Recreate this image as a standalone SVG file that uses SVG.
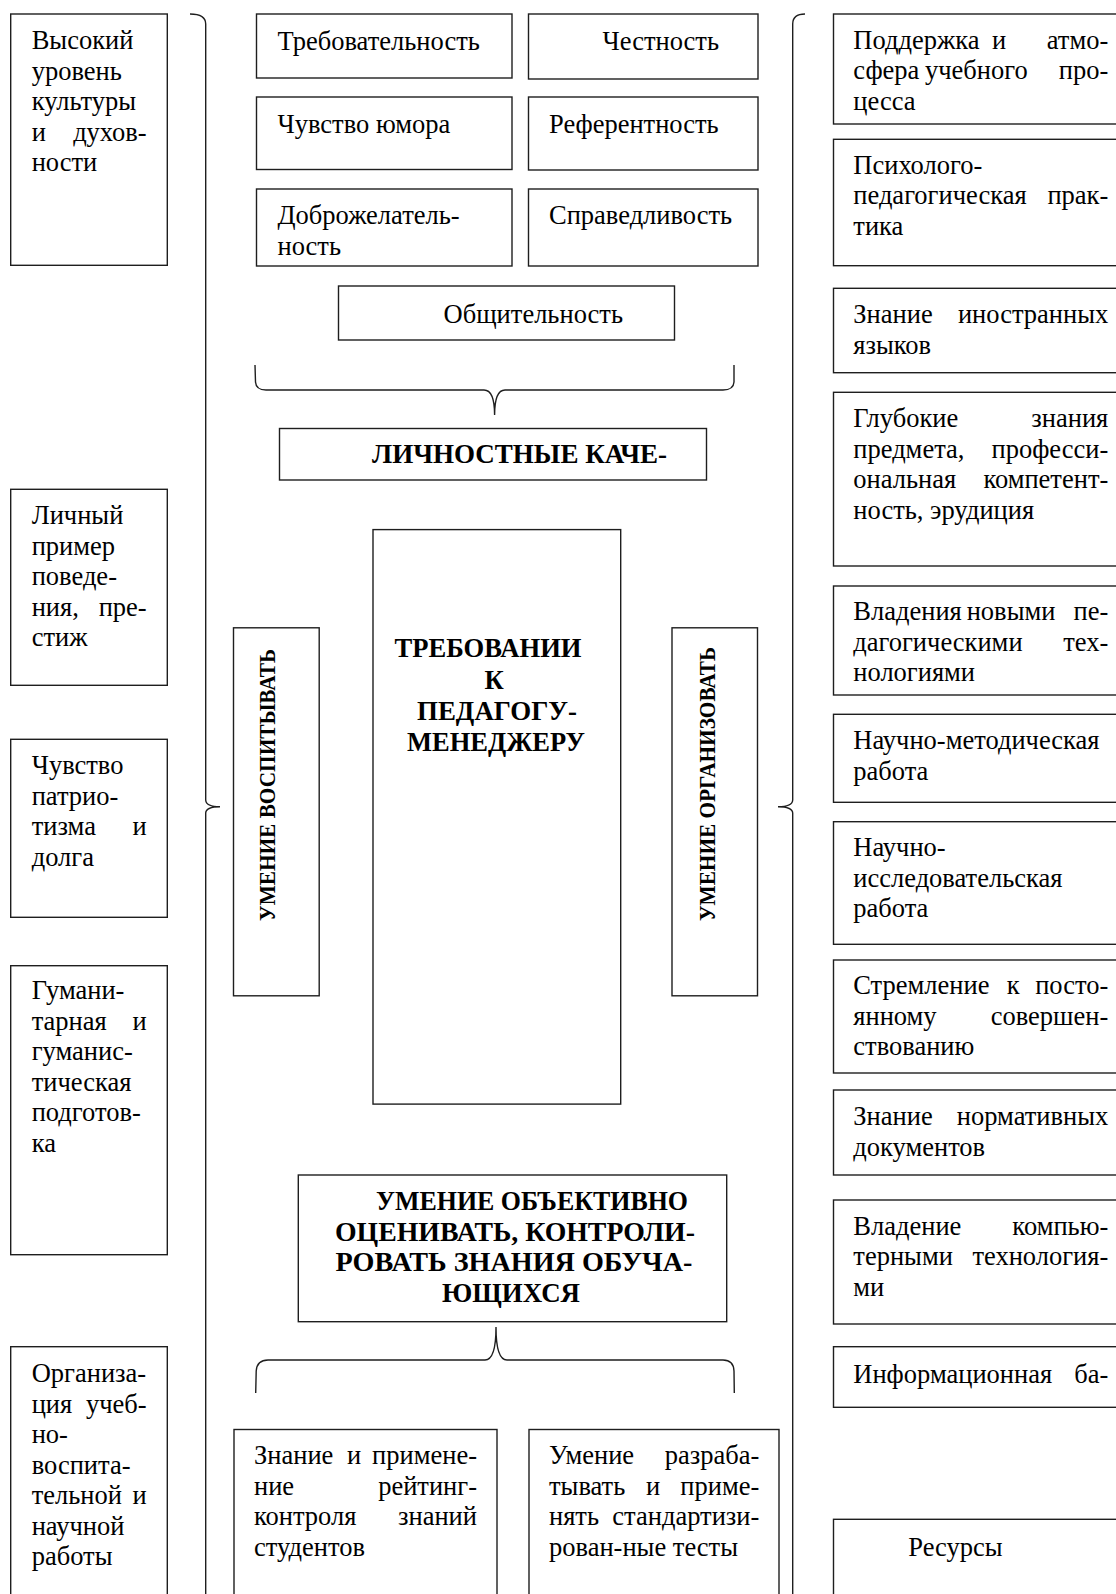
<svg xmlns="http://www.w3.org/2000/svg" width="1116" height="1594" viewBox="0 0 1116 1594">
<style>
.box{fill:#fff;stroke:#1e1e1e;stroke-width:1.4}
.t{font-family:"Liberation Serif","Times New Roman",serif;font-size:26.5px;fill:#000}
.b{font-weight:bold}
.e{text-anchor:end}
.m{text-anchor:middle}
.br{fill:none;stroke:#1e1e1e;stroke-width:1.4}
</style>
<rect width="1116" height="1594" fill="#fff"/>
<g id="connectors">
<path class="br" d="M190 14 Q205.7 14 205.7 24 L205.7 800 Q206 806.7 220 806.7 Q206 806.7 205.7 813 L205.7 1600"/>
<path class="br" d="M805 14 Q792.7 14 792.7 24 L792.7 800 Q792.4 806.7 778 806.7 Q792.4 806.7 792.7 813 L792.7 1600"/>
<path class="br" d="M255 365 L255.5 382 Q256 390 266 390 L484 390 Q494.6 390 494.6 415 Q494.6 390 505 390 L723 390 Q733.5 390 734 382 L734 365"/>
<path class="br" d="M255.7 1393 L256.2 1371 Q257 1360 268 1360 L485 1360 Q496 1360 496 1327 Q496 1360 507 1360 L723 1360 Q733.5 1360 734 1371 L734.3 1393"/>
</g>
<g id="left-a"><rect class="box" x="10.7" y="14" width="156.6" height="251.3"/>
<text class="t" x="31.7" y="49">Высокий</text><text class="t" x="31.7" y="79.5">уровень</text><text class="t" x="31.7" y="110">культуры</text><text class="t" x="31.7" y="140.5">и</text><text class="t e" x="146.7" y="140.5">духов-</text><text class="t" x="31.7" y="171">ности</text></g>
<g id="left-b"><rect class="box" x="10.7" y="489.3" width="156.6" height="196"/>
<text class="t" x="31.7" y="524">Личный</text><text class="t" x="31.7" y="554.5">пример</text><text class="t" x="31.7" y="585">поведе-</text><text class="t" x="31.7" y="615.5">ния,</text><text class="t e" x="146.7" y="615.5">пре-</text><text class="t" x="31.7" y="646">стиж</text></g>
<g id="left-c"><rect class="box" x="10.7" y="739.3" width="156.6" height="178"/>
<text class="t" x="31.7" y="774">Чувство</text><text class="t" x="31.7" y="804.5">патрио-</text><text class="t" x="31.7" y="835">тизма</text><text class="t e" x="146.7" y="835">и</text><text class="t" x="31.7" y="865.5">долга</text></g>
<g id="left-d"><rect class="box" x="10.7" y="965.7" width="156.6" height="289"/>
<text class="t" x="31.7" y="999">Гумани-</text><text class="t" x="31.7" y="1029.5">тарная</text><text class="t e" x="146.7" y="1029.5">и</text><text class="t" x="31.7" y="1060">гуманис-</text><text class="t" x="31.7" y="1090.5">тическая</text><text class="t" x="31.7" y="1121">подготов-</text><text class="t" x="31.7" y="1151.5">ка</text></g>
<g id="left-e"><rect class="box" x="10.7" y="1346.7" width="156.6" height="260"/>
<text class="t" x="31.7" y="1382">Организа-</text><text class="t" x="31.7" y="1412.5">ция</text><text class="t e" x="146.7" y="1412.5">учеб-</text><text class="t" x="31.7" y="1443">но-</text><text class="t" x="31.7" y="1473.5">воспита-</text><text class="t" x="31.7" y="1504">тельной</text><text class="t e" x="146.7" y="1504">и</text><text class="t" x="31.7" y="1534.5">научной</text><text class="t" x="31.7" y="1565">работы</text></g>
<g id="q-trebovatelnost"><rect class="box" x="256.5" y="14" width="255.5" height="64"/><text class="t" x="277.5" y="50">Требовательность</text></g>
<g id="q-chestnost"><rect class="box" x="528.5" y="14" width="229.5" height="65"/><text class="t" x="602.5" y="50">Честность</text></g>
<g id="q-humor"><rect class="box" x="256.5" y="97" width="255.5" height="72.5"/><text class="t" x="277.5" y="132.5">Чувство юмора</text></g>
<g id="q-referent"><rect class="box" x="528.5" y="97" width="229.5" height="73"/><text class="t" x="549" y="132.5">Референтность</text></g>
<g id="q-dobro"><rect class="box" x="256.5" y="189" width="255.5" height="77"/><text class="t" x="277.5" y="224">Доброжелатель-</text><text class="t" x="277.5" y="254.5">ность</text></g>
<g id="q-sprav"><rect class="box" x="528.5" y="189" width="229.5" height="77"/><text class="t" x="549" y="224">Справедливость</text></g>
<g id="q-obsch"><rect class="box" x="338.5" y="286" width="336" height="54"/><text class="t" x="443.6" y="322.5">Общительность</text></g>
<g id="lichnostnye"><rect class="box" x="279.5" y="428.5" width="427" height="51.5"/><text class="t b" x="372" y="463" textLength="295" lengthAdjust="spacingAndGlyphs">ЛИЧНОСТНЫЕ КАЧЕ-</text></g>
<g id="center"><rect class="box" x="373" y="529.6" width="247.7" height="574.5"/>
<text class="t b m" x="488" y="657" textLength="187" lengthAdjust="spacingAndGlyphs">ТРЕБОВАНИИ</text>
<text class="t b m" x="494" y="688.5">К</text>
<text class="t b m" x="497" y="720" textLength="160" lengthAdjust="spacingAndGlyphs">ПЕДАГОГУ-</text>
<text class="t b m" x="496" y="751" textLength="178" lengthAdjust="spacingAndGlyphs">МЕНЕДЖЕРУ</text></g>
<g id="vospit"><rect class="box" x="233.5" y="627.8" width="85.7" height="368"/>
<text class="t b m" style="font-size:24px" transform="translate(275 785) rotate(-90)" textLength="272" lengthAdjust="spacingAndGlyphs">УМЕНИЕ ВОСПИТЫВАТЬ</text></g>
<g id="organiz"><rect class="box" x="672" y="627.8" width="85.5" height="368"/>
<text class="t b m" style="font-size:24px" transform="translate(715 784) rotate(-90)" textLength="274" lengthAdjust="spacingAndGlyphs">УМЕНИЕ ОРГАНИЗОВАТЬ</text></g>
<g id="otsenivat"><rect class="box" x="298.3" y="1175" width="428.4" height="146.7"/>
<text class="t b m" x="532" y="1210" textLength="312" lengthAdjust="spacingAndGlyphs">УМЕНИЕ ОБЪЕКТИВНО</text>
<text class="t b m" x="515" y="1240.5" textLength="360" lengthAdjust="spacingAndGlyphs">ОЦЕНИВАТЬ, КОНТРОЛИ-</text>
<text class="t b m" x="514" y="1271" textLength="357" lengthAdjust="spacingAndGlyphs">РОВАТЬ ЗНАНИЯ ОБУЧА-</text>
<text class="t b m" x="511" y="1301.5" textLength="138" lengthAdjust="spacingAndGlyphs">ЮЩИХСЯ</text></g>
<g id="reyting"><rect class="box" x="234" y="1429.5" width="263" height="180"/>
<text class="t" x="254" y="1464">Знание</text><text class="t" x="347" y="1464">и</text><text class="t e" x="477" y="1464">примене-</text>
<text class="t" x="254" y="1494.5">ние</text><text class="t e" x="477" y="1494.5">рейтинг-</text>
<text class="t" x="254" y="1525">контроля</text><text class="t e" x="477" y="1525">знаний</text>
<text class="t" x="254" y="1555.5">студентов</text></g>
<g id="testy"><rect class="box" x="529" y="1429.5" width="250" height="180"/>
<text class="t" x="549" y="1464">Умение</text><text class="t e" x="759.3" y="1464">разраба-</text>
<text class="t" x="549" y="1494.5">тывать</text><text class="t" x="646" y="1494.5">и</text><text class="t e" x="759.3" y="1494.5">приме-</text>
<text class="t" x="549" y="1525">нять</text><text class="t e" x="759.3" y="1525">стандартизи-</text>
<text class="t" x="549" y="1555.5">рован-ные тесты</text></g>
<g id="r1"><rect class="box" x="833.5" y="14" width="300" height="110"/>
<text class="t" x="853.3" y="48.5">Поддержка</text><text class="t" x="992" y="48.5">и</text><text class="t e" x="1108.3" y="48.5">атмо-</text>
<text class="t" x="853.3" y="79">сфера</text><text class="t" x="925" y="79">учебного</text><text class="t e" x="1108.3" y="79">про-</text>
<text class="t" x="853.3" y="109.5">цесса</text></g>
<g id="r2"><rect class="box" x="833.5" y="139.3" width="300" height="126.4"/>
<text class="t" x="853.3" y="173.8">Психолого-</text>
<text class="t" x="853.3" y="204.3">педагогическая</text><text class="t e" x="1108.3" y="204.3">прак-</text>
<text class="t" x="853.3" y="234.8">тика</text></g>
<g id="r3"><rect class="box" x="833.5" y="288.3" width="300" height="84.4"/>
<text class="t" x="853.3" y="323.3">Знание</text><text class="t e" x="1108.3" y="323.3">иностранных</text>
<text class="t" x="853.3" y="353.8">языков</text></g>
<g id="r4"><rect class="box" x="833.5" y="392.3" width="300" height="173.7"/>
<text class="t" x="853.3" y="427.3">Глубокие</text><text class="t e" x="1108.3" y="427.3">знания</text>
<text class="t" x="853.3" y="457.8">предмета,</text><text class="t e" x="1108.3" y="457.8">професси-</text>
<text class="t" x="853.3" y="488.3">ональная</text><text class="t e" x="1108.3" y="488.3">компетент-</text>
<text class="t" x="853.3" y="518.8">ность, эрудиция</text></g>
<g id="r5"><rect class="box" x="833.5" y="586" width="300" height="109"/>
<text class="t" x="853.3" y="620">Владения</text><text class="t" x="966.7" y="620">новыми</text><text class="t e" x="1108.3" y="620">пе-</text>
<text class="t" x="853.3" y="650.5">дагогическими</text><text class="t e" x="1108.3" y="650.5">тех-</text>
<text class="t" x="853.3" y="681">нологиями</text></g>
<g id="r6"><rect class="box" x="833.5" y="714.3" width="300" height="88"/>
<text class="t" x="853.3" y="749.3">Научно-методическая</text>
<text class="t" x="853.3" y="779.8">работа</text></g>
<g id="r7"><rect class="box" x="833.5" y="821.7" width="300" height="122.6"/>
<text class="t" x="853.3" y="856.2">Научно-</text>
<text class="t" x="853.3" y="886.7">исследовательская</text>
<text class="t" x="853.3" y="917.2">работа</text></g>
<g id="r8"><rect class="box" x="833.5" y="960" width="300" height="113"/>
<text class="t" x="853.3" y="994">Стремление</text><text class="t" x="1006.7" y="994">к</text><text class="t e" x="1108.3" y="994">посто-</text>
<text class="t" x="853.3" y="1024.5">янному</text><text class="t e" x="1108.3" y="1024.5">совершен-</text>
<text class="t" x="853.3" y="1055">ствованию</text></g>
<g id="r9"><rect class="box" x="833.5" y="1090" width="300" height="85"/>
<text class="t" x="853.3" y="1125">Знание</text><text class="t e" x="1108.3" y="1125">нормативных</text>
<text class="t" x="853.3" y="1155.5">документов</text></g>
<g id="r10"><rect class="box" x="833.5" y="1200" width="300" height="124"/>
<text class="t" x="853.3" y="1234.5">Владение</text><text class="t e" x="1108.3" y="1234.5">компью-</text>
<text class="t" x="853.3" y="1265">терными</text><text class="t e" x="1108.3" y="1265">технология-</text>
<text class="t" x="853.3" y="1295.5">ми</text></g>
<g id="r11"><rect class="box" x="833.5" y="1346.7" width="300" height="60.6"/>
<text class="t" x="853.3" y="1383">Информационная</text><text class="t e" x="1108.3" y="1383">ба-</text></g>
<g id="r12"><rect class="box" x="833.5" y="1519.3" width="300" height="100"/>
<text class="t" x="908.3" y="1556">Ресурсы</text></g>
</svg>
